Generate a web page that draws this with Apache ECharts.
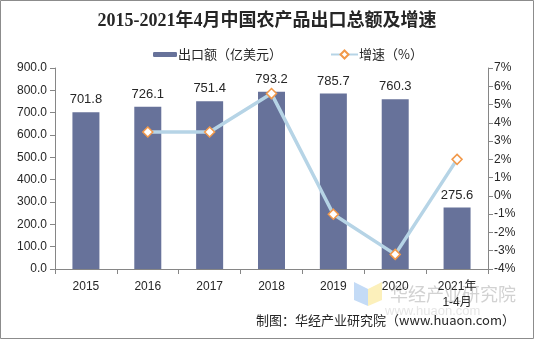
<!DOCTYPE html>
<html>
<head>
<meta charset="utf-8">
<script src="https://cdn.jsdelivr.net/npm/echarts@6/dist/echarts.min.js"></script>
<style>
  html, body { margin: 0; padding: 0; background: #fff; }
  #chart { width: 534px; height: 339px; }
</style>
</head>
<body>
<div id="chart"></div>
<script>
// Export totals and year-on-year growth
const categories = ['2015', '2016', '2017', '2018', '2019', '2020', '2021年\n1-4月'];
const exportValues = [701.8, 726.1, 751.4, 793.2, 785.7, 760.3, 275.6];
const growthRates = [null, 3.5, 3.5, 5.6, -1.0, -3.2, 2.0];
const leftTicks = [0, 100, 900];   // axis min, step, max (亿美元)
const rightTicks = [-4, 1, 7];     // axis min, step, max (%)

const latin = '"Liberation Sans", Arial, "Noto Sans CJK SC", sans-serif';
const barColor = '#67729A';
const lineColor = '#B6D4E6';
const markerColor = '#F2994A';

const chart = echarts.init(document.getElementById('chart'), null, { renderer: 'canvas' });

chart.setOption({
  animation: false,
  backgroundColor: '#fff',
  textStyle: { fontFamily: latin },
  title: {
    text: '2015-2021年4月中国农产品出口总额及增速',
    left: 'center',
    top: 7,
    textStyle: {
      fontFamily: '"Liberation Serif", "DejaVu Serif", "Noto Sans CJK SC", serif',
      fontWeight: 'bold',
      fontSize: 18,
      color: '#262626'
    }
  },
  legend: [
    {
      data: ['出口额（亿美元）'],
      left: 148,
      top: 43,
      itemWidth: 24,
      itemHeight: 5,
      itemGap: 4,
      textStyle: { fontFamily: '"Noto Sans CJK SC", sans-serif', fontSize: 13, color: '#262626', padding: [0, 0, 0, -4] }
    },
    {
      data: ['增速（%）'],
      left: 325,
      top: 43,
      itemWidth: 27,
      itemHeight: 10,
      textStyle: { fontFamily: '"Noto Sans CJK SC", sans-serif', fontSize: 13, color: '#262626', padding: [0, 0, 0, -4] }
    }
  ],
  grid: { left: 55, right: 46, top: 68, bottom: 70, containLabel: false },
  xAxis: {
    type: 'category',
    data: categories,
    axisLine: { lineStyle: { color: '#868686', width: 1 } },
    axisTick: { show: true, alignWithLabel: false, length: 5, lineStyle: { color: '#868686' } },
    axisLabel: {
      color: '#262626',
      fontSize: 12,
      margin: 10,
      lineHeight: 16,
      fontFamily: latin,
      interval: 0
    }
  },
  yAxis: [
    {
      type: 'value',
      min: leftTicks[0],
      max: leftTicks[2],
      interval: leftTicks[1],
      splitLine: { show: false },
      axisLine: { show: true, lineStyle: { color: '#868686' } },
      axisTick: { show: true, length: 5, lineStyle: { color: '#868686' } },
      axisLabel: {
        color: '#262626',
        fontSize: 12,
        margin: 8,
        formatter: v => v.toFixed(1)
      }
    },
    {
      type: 'value',
      min: rightTicks[0],
      max: rightTicks[2],
      interval: rightTicks[1],
      splitLine: { show: false },
      axisLine: { show: true, lineStyle: { color: '#868686' } },
      axisTick: { show: true, length: 5, lineStyle: { color: '#868686' } },
      axisLabel: {
        color: '#262626',
        fontSize: 12,
        margin: 6,
        formatter: v => v + '%'
      }
    }
  ],
  series: [
    {
      name: '出口额（亿美元）',
      type: 'bar',
      data: exportValues,
      barWidth: 27,
      itemStyle: { color: barColor },
      label: {
        show: true,
        position: 'top',
        distance: 6,
        color: '#262626',
        fontSize: 13,
        formatter: p => p.value.toFixed(1)
      },
      z: 2
    },
    {
      name: '增速（%）',
      type: 'line',
      yAxisIndex: 1,
      data: growthRates,
      symbol: 'diamond',
      symbolSize: 10,
      lineStyle: { color: lineColor, width: 3.5 },
      itemStyle: { color: '#fff', borderColor: markerColor, borderWidth: 1.5 },
      z: 3
    }
  ],
  graphic: [
    // outer frame
    {
      type: 'rect',
      shape: { x: 0.5, y: 0.5, width: 533, height: 338 },
      style: { fill: 'none', stroke: '#8c8c8c', lineWidth: 1 },
      silent: true
    },
    // faint watermark logo
    {
      type: 'polygon',
      shape: { points: [[354, 282], [368, 289], [368, 306], [354, 300]] },
      style: { fill: '#9CC3F0', opacity: 0.6 },
      silent: true
    },
    {
      type: 'polygon',
      shape: { points: [[368, 289], [382, 282], [382, 300], [368, 306]] },
      style: { fill: '#FBEA9E', opacity: 0.7 },
      silent: true
    },
    {
      type: 'text',
      left: 390,
      top: 285,
      style: {
        text: '华经产业研究院',
        fontSize: 18,
        fontFamily: '"Noto Sans CJK SC", sans-serif',
        fill: '#d2d2d2'
      },
      silent: true
    },
    {
      type: 'text',
      left: 385,
      top: 305,
      style: {
        text: 'www.huaon.com',
        fontSize: 13,
        fontFamily: latin,
        fill: '#e6e6e6'
      },
      silent: true
    },
    // source note
    {
      type: 'text',
      right: 19,
      top: 314,
      style: {
        text: '制图：华经产业研究院（www.huaon.com）',
        fontSize: 13,
        fontFamily: '"Noto Sans CJK SC", sans-serif',
        fill: '#262626'
      },
      z: 10
    }
  ]
});
</script>
</body>
</html>
